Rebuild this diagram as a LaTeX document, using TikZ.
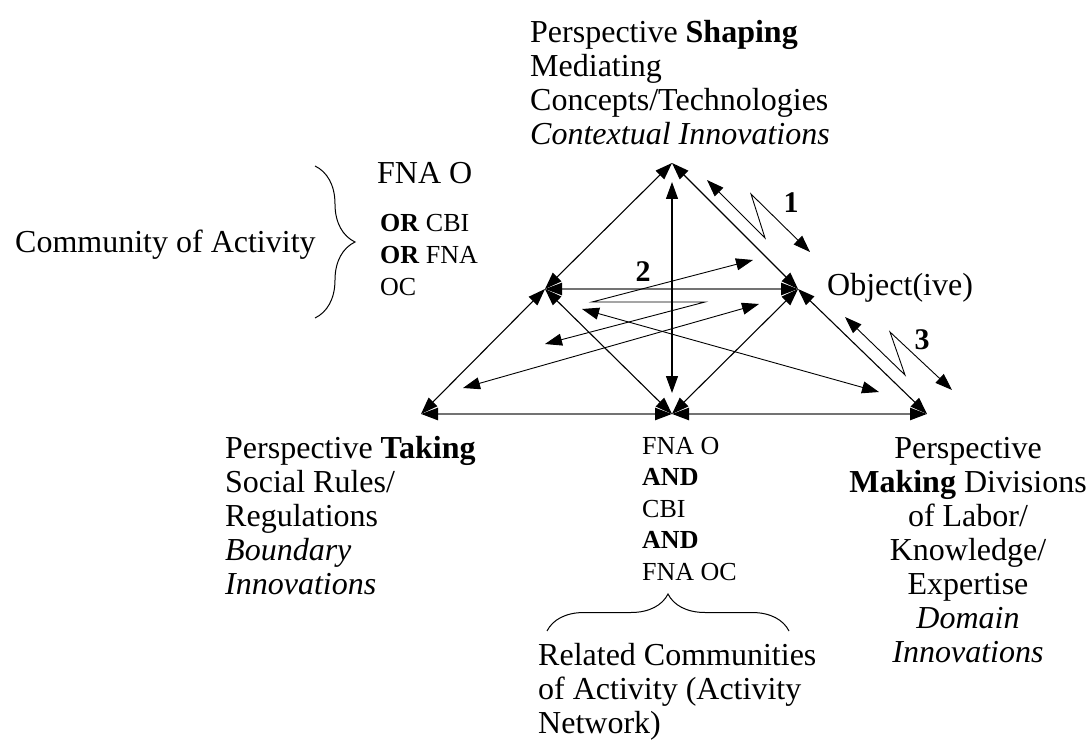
\documentclass[tikz,border=0pt]{standalone}
\usepackage{fontspec}
\setmainfont{Liberation Serif}
\usetikzlibrary{arrows.meta,decorations.pathreplacing}
\begin{document}
\begin{tikzpicture}[x=1pt,y=-1pt,
  big/.style={inner sep=0pt, font=\fontsize{32}{34}\selectfont, align=left, anchor=base west},
  mid/.style={inner sep=0pt, font=\fontsize{26}{31.5}\selectfont, align=left, anchor=base west},
  num/.style={inner sep=0pt, font=\fontsize{30}{30}\selectfont\bfseries},
  dbl/.style={{Triangle[length=17pt,width=12pt,color=black]}-{Triangle[length=17pt,width=12pt,color=black]}},
  edge/.style={dbl, line width=1.1pt, draw=black},
  baseline edge/.style={dbl, line width=2.4pt, draw=black!55},
  thin/.style={dbl, line width=0.9pt, draw=black},
  bracket/.style={line width=1pt, decorate}
]
\useasboundingbox (0,0) rectangle (1092,743);

% corners of the activity triangles
\coordinate (T)  at (672,163);
\coordinate (L)  at (545,289);
\coordinate (R)  at (798,289);
\coordinate (BL) at (421,414);
\coordinate (BC) at (672,414);
\coordinate (BR) at (927,414);

% outer and inner triangle edges
\draw[edge] (T) -- (L);
\draw[edge] (T) -- (R);
\draw[edge] (L) -- (BL);
\draw[edge] (L) -- (BC);
\draw[edge] (R) -- (BC);
\draw[edge] (R) -- (BR);
\draw[baseline edge] (L) -- (R);
\draw[baseline edge] (BL) -- (BC);
\draw[baseline edge] (BC) -- (BR);

% central vertical link
\coordinate (v1) at (672,182);
\coordinate (v2) at (672,393);
\draw[edge] (v1) -- (v2);

% tension arrow 1 (shaping <-> object)
\coordinate (a1) at (707,180);
\coordinate (a2) at (765,238);
\coordinate (a3) at (751,194);
\coordinate (a4) at (810,252);
\draw[thin, line join=miter] (a1) -- (a2) -- (a3) -- (a4);

% tension arrow 3 (object <-> making)
\coordinate (c1) at (845,317);
\coordinate (c2) at (905,375);
\coordinate (c3) at (890,332);
\coordinate (c4) at (952,390);
\draw[thin, line join=miter] (c1) -- (c2) -- (c3) -- (c4);

% tension arrow 2 inside the community
\coordinate (b1) at (753,260);
\coordinate (b2) at (592,302);
\coordinate (b3) at (705,302);
\coordinate (b4) at (545,344);
\draw[thin, line join=miter] (b1) -- (b2) -- (b3) -- (b4);

% crossing links
\coordinate (d1) at (582,309);
\coordinate (d2) at (879,392);
\draw[thin] (d1) -- (d2);
\coordinate (e1) at (463,388);
\coordinate (e2) at (759,304);
\draw[thin] (e1) -- (e2);

% numbers
\node[num] (n1) at (791,203) {1};
\node[num] (n2) at (643,272) {2};
\node[num] (n3) at (922,340) {3};

% labels (multi-line nodes are placed by the baseline of their last line)
\node[big] (shaping) at (530,145) {Perspective \textbf{Shaping}\\Mediating\\Concepts/Technologies\\\textit{Contextual Innovations}};
\node[big] (fnao) at (377,184) {FNA O};
\node[mid] (orlist) at (380,295) {\textbf{OR} CBI\\\textbf{OR} FNA\\OC};
\node[big] (community) at (15,253) {Community of Activity};
\node[big] (object) at (827,295) {Object(ive)};
\node[big] (taking) at (225,594) {Perspective \textbf{Taking}\\Social Rules/\\Regulations\\\textit{Boundary}\\\textit{Innovations}};
\node[big, align=center, anchor=base] (making) at (968,662) {Perspective\\\textbf{Making} Divisions\\of Labor/\\Knowledge/\\Expertise\\\textit{Domain}\\\textit{Innovations}};
\node[mid] (andlist) at (642,580) {FNA O\\\textbf{AND}\\CBI\\\textbf{AND}\\FNA OC};
\node[big] (related) at (538,733) {Related Communities\\of Activity (Activity\\Network)};

% braces
\coordinate (lb1) at (315,166);
\coordinate (lb2) at (315,318);
\draw[bracket, decoration={brace, amplitude=40pt}] (lb1) -- (lb2);
\coordinate (bb1) at (547,631);
\coordinate (bb2) at (789,631);
\draw[bracket, decoration={brace, amplitude=37pt}] (bb1) -- (bb2);
\end{tikzpicture}
\end{document}
